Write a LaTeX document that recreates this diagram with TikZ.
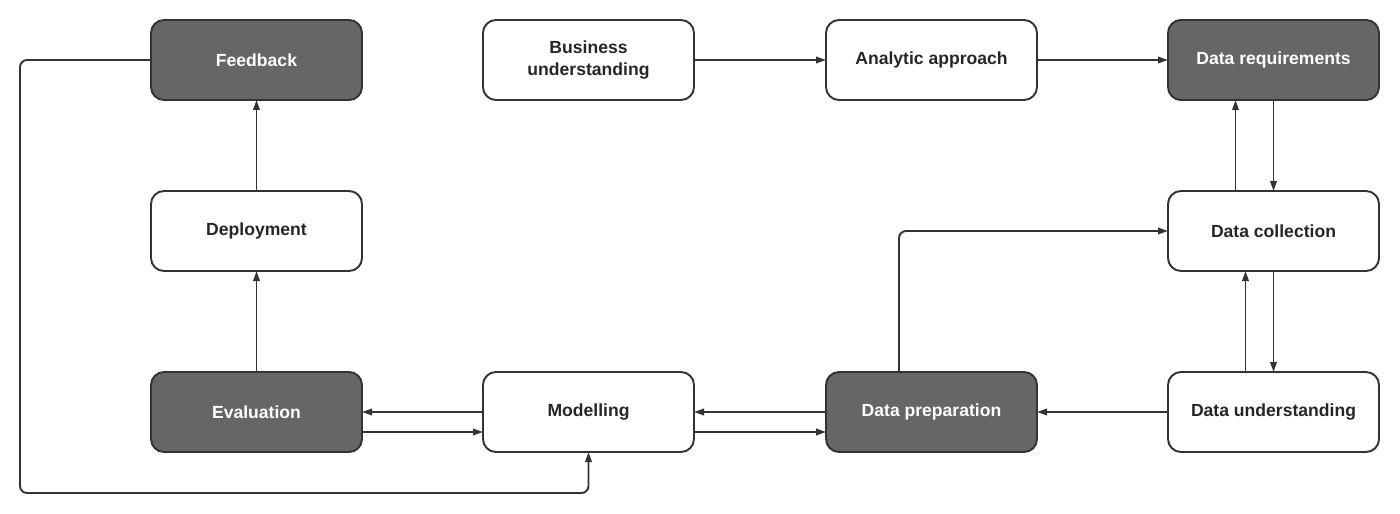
\documentclass[tikz,border=0pt]{standalone}
\usepackage{fontspec}
\setmainfont{Liberation Sans}
\usetikzlibrary{positioning,arrows.meta,calc}
\definecolor{boxgray}{HTML}{666666}
\definecolor{linegray}{HTML}{333333}
\tikzstyle{box}=[draw=linegray,line width=1.1pt,rounded corners=0.26cm,minimum width=4.22cm,minimum height=1.6cm,inner sep=0pt,outer sep=0pt,align=center,text=black!85,font=\bfseries\fontsize{10}{12.5}\selectfont]
\tikzstyle{boxdark}=[box,fill=boxgray,text=white]
\tikzstyle{arr}=[draw=linegray,line width=1.1pt,-{Triangle[length=0.2cm,width=0.13cm]}]

\begin{document}
\begin{tikzpicture}
\useasboundingbox (0,0) rectangle (28,-10.28);

% top row
\node [boxdark] (fb) at (5.13,-1.2) {Feedback};
\node [box, right=2.42cm of fb] (bu) {Business\\understanding};
\node [box, right=2.64cm of bu] (aa) {Analytic approach};
\node [boxdark, right=2.62cm of aa] (dr) {Data requirements};

% middle row
\node [box, below=1.82cm of fb] (dep) {Deployment};
\node [box, below=1.82cm of dr] (dc) {Data collection};

% bottom row
\node [boxdark, below=2.02cm of dep] (ev) {Evaluation};
\node [box, right=2.42cm of ev] (mo) {Modelling};
\node [boxdark, right=2.64cm of mo] (dp) {Data preparation};
\node [box, below=2.02cm of dc] (du) {Data understanding};

\draw[arr] (bu) -- (aa);
\draw[arr] (aa) -- (dr);

\draw[arr] (dr.south) -- (dc.north);
\draw[arr] ([xshift=-0.76cm]dc.north) -- ([xshift=-0.76cm]dr.south);
\draw[arr] (dc.south) -- (du.north);
\draw[arr] ([xshift=-0.56cm]du.north) -- ([xshift=-0.56cm]dc.south);

\draw[arr] (du) -- (dp);
\draw[arr] (dp) -- (mo);
\draw[arr] ([yshift=-0.4cm]mo.east) -- ([yshift=-0.4cm]dp.west);
\draw[arr] (mo) -- (ev);
\draw[arr] ([yshift=-0.4cm]ev.east) -- ([yshift=-0.4cm]mo.west);

\draw[arr,rounded corners=4pt] ([xshift=-0.65cm]dp.north) |- (dc.west);

\draw[arr] (ev) -- (dep);
\draw[arr] (dep) -- (fb);

% feedback loop
\coordinate (lp) at (0.4,-9.86);
\draw[arr,rounded corners=4pt] (fb.west) -| (lp) -| (mo.south);
\end{tikzpicture}
\end{document}
